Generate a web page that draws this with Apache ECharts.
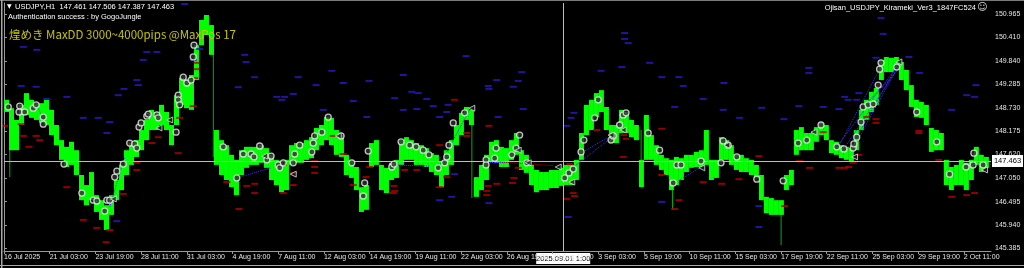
<!DOCTYPE html>
<html><head><meta charset="utf-8">
<script src="https://cdn.jsdelivr.net/npm/echarts@6/dist/echarts.min.js"></script>
<style>html,body{margin:0;padding:0;background:#000;}#c{width:1024px;height:268px;}</style>
</head><body><div id="c"></div>
<script>
// ---- data (x = H1 bar index from 16 Jul 2025, y = USDJPY price) ----
const xLabels = ['16 Jul 2025','21 Jul 03:00','23 Jul 19:00','28 Jul 11:00','31 Jul 03:00','4 Aug 19:00','7 Aug 11:00','12 Aug 03:00','14 Aug 19:00','19 Aug 11:00','22 Aug 03:00','26 Aug 19:00','29 Aug 11:00','3 Sep 03:00','5 Sep 19:00','10 Sep 11:00','15 Sep 03:00','17 Sep 19:00','22 Sep 11:00','25 Sep 03:00','29 Sep 19:00','2 Oct 11:00'];
const barsPerLabel = 64;
const yTicks = [145.385,145.940,146.495,147.050,147.620,148.175,148.730,149.285,149.840,150.410,150.965];
const barsPerSample = 7;
const priceHigh = [148.92,148.72,148.44,148.80,149.08,148.92,148.84,148.84,148.92,148.68,148.32,147.96,147.80,147.92,147.72,147.13,146.89,147.20,146.65,146.53,146.41,146.65,147.01,147.37,147.72,147.89,147.96,148.20,148.44,148.68,148.63,148.80,148.63,148.32,149.03,149.44,149.39,149.51,150.22,150.82,150.94,150.70,148.20,147.96,147.84,147.61,147.49,147.72,147.80,147.80,147.80,147.84,147.77,147.61,147.49,147.37,147.49,147.84,147.89,147.89,147.96,148.03,148.25,148.32,148.51,148.49,148.20,148.08,147.61,147.49,147.32,146.84,146.89,147.89,147.96,147.37,147.30,147.42,147.49,147.96,148.03,147.96,147.89,147.84,147.77,147.65,147.61,147.44,147.72,147.96,148.32,148.61,148.75,148.68,147.08,147.37,147.61,147.92,147.96,147.80,147.77,147.96,148.13,147.72,147.61,147.37,147.25,147.20,147.20,147.25,147.25,147.30,147.37,147.37,147.49,148.13,148.80,148.92,149.08,149.15,148.75,148.32,148.32,148.68,148.63,148.44,148.32,147.49,148.56,148.08,147.84,147.61,147.53,147.49,147.56,147.53,147.61,147.61,147.68,147.72,148.20,147.49,147.49,148.03,147.96,147.84,147.61,147.61,147.53,147.49,147.37,147.13,146.61,146.58,146.53,146.53,147.13,147.25,148.20,148.27,148.13,148.13,148.27,148.37,148.32,147.96,147.92,147.84,147.80,147.77,148.20,148.68,148.92,149.11,149.20,149.87,149.94,149.92,149.94,149.82,149.63,149.27,148.92,148.87,148.80,148.25,148.20,148.13,147.49,147.32,147.37,147.49,147.42,147.49,147.80,147.61,147.56];
const priceLow = [148.63,147.72,147.72,148.32,148.56,148.49,148.44,148.37,148.32,148.08,147.84,147.49,147.32,147.37,147.13,146.53,146.41,146.53,146.25,146.06,145.82,146.18,146.53,146.77,147.13,147.37,147.56,147.72,147.96,148.20,148.20,148.32,148.20,147.84,148.32,148.80,148.72,148.68,149.39,150.22,150.46,149.99,147.37,147.13,147.01,146.84,146.65,147.13,147.30,147.37,147.37,147.42,147.30,147.01,146.89,146.72,146.77,147.37,147.42,147.42,147.49,147.53,147.72,147.84,147.96,147.84,147.61,147.56,147.13,147.06,146.77,146.25,146.30,147.32,147.37,146.77,146.70,147.01,147.06,147.37,147.49,147.49,147.37,147.37,147.32,147.20,147.13,146.84,147.13,147.37,147.84,148.08,148.44,148.32,146.61,146.77,147.01,147.44,147.42,147.32,147.32,147.49,147.61,147.25,147.18,146.89,146.72,146.77,146.77,146.82,146.82,146.87,146.89,146.89,147.01,147.49,148.08,148.20,148.51,148.63,148.20,147.89,147.89,148.13,148.13,148.03,147.96,146.84,147.49,147.49,147.37,147.25,147.13,146.77,146.89,147.01,147.20,147.30,147.32,147.32,147.37,147.01,147.06,147.49,147.49,147.37,147.25,147.20,147.20,147.13,147.06,146.53,146.22,146.18,146.18,146.18,146.77,146.89,147.61,147.72,147.72,147.72,147.92,148.08,147.96,147.65,147.61,147.53,147.49,147.44,147.72,148.20,148.44,148.63,148.80,149.39,149.58,149.58,149.63,149.39,149.15,148.75,148.51,148.49,148.32,147.68,147.72,147.72,146.89,146.77,146.89,146.89,146.77,147.01,147.37,147.20,147.30];
// long thin wicks [bar, low, high]
const spikes = [[8,147.08,148.63],[293,147.56,150.34],[655,146.58,148.68],[892,146.84,148.20],[936,146.30,147.49],[1088,145.46,146.53]];
const blueDashes = [[253,151.20],[27,150.18],[46,150.11],[200,150.06],[214,150.06],[274,150.13],[265,149.87],[337,149.99],[339,149.82],[195,149.87],[351,149.46],[459,149.61],[186,149.39],[188,149.27],[328,149.22],[412,149.46],[437,149.27],[88,148.99],[60,148.94],[405,149.06],[382,148.99],[393,148.99],[389,148.92],[447,148.68],[111,148.49],[132,148.49],[148,148.39],[144,148.13],[158,146.03],[24,149.25],[45,149.23],[160,149.03],[168,149.18],[475,149.32],[511,149.37],[489,148.89],[508,148.51],[559,149.51],[547,148.96],[559,148.68],[571,149.11],[580,149.08],[578,148.70],[592,148.94],[601,148.77],[610,148.51],[622,148.80],[620,148.63],[647,149.96],[678,149.25],[679,149.18],[690,149.39],[692,148.51],[713,149.23],[720,149.37],[725,149.58],[727,148.70],[631,147.15],[610,146.53],[627,146.61],[679,146.46],[790,146.13],[788,148.30],[794,148.49],[798,148.61],[836,149.61],[865,149.70],[869,150.51],[869,150.37],[874,150.27],[904,149.80],[921,149.46],[921,146.49],[1228,150.87],[1231,150.49],[945,149.46],[951,149.25],[979,148.94],[939,148.75],[1008,149.32],[1007,148.68],[1030,148.49],[1092,148.46],[1057,146.39],[1057,145.89],[1127,149.68],[1127,149.56],[1147,148.75],[1169,148.70],[1197,149.08],[1177,148.99],[1182,148.92],[1194,148.92],[1221,149.92],[1267,149.94],[1282,149.56],[1327,148.68],[1348,149.03],[1361,149.27],[1359,148.99],[1113,148.77],[1061,148.73]];
const redDashes = [[1,148.30],[24,148.34],[27,148.06],[45,148.06],[50,147.96],[35,147.80],[270,149.80],[270,149.65],[267,149.44],[265,148.77],[246,148.49],[244,147.65],[216,148.03],[207,147.89],[186,147.42],[186,147.25],[88,146.84],[111,146.06],[130,145.87],[148,145.82],[143,145.53],[167,146.68],[312,146.96],[340,146.87],[351,146.92],[351,146.70],[329,146.32],[391,146.70],[405,146.89],[435,147.46],[435,147.32],[435,147.18],[461,148.06],[391,147.37],[405,147.18],[631,148.92],[648,148.13],[648,148.06],[610,147.84],[475,147.63],[512,147.32],[507,147.08],[489,146.89],[546,146.87],[547,146.75],[545,146.70],[561,147.25],[578,147.25],[610,146.84],[620,147.08],[679,148.30],[678,146.87],[676,146.75],[676,146.65],[690,146.92],[714,147.06],[712,146.94],[720,147.30],[792,147.39],[788,146.56],[797,146.70],[799,146.63],[830,148.20],[867,147.56],[868,148.08],[871,147.99],[921,148.23],[921,147.13],[945,146.53],[939,146.32],[979,146.96],[1005,146.92],[1029,147.03],[1057,147.58],[1093,146.39],[1114,147.46],[1128,147.30],[1147,148.15],[1169,147.30],[1177,147.30],[1183,147.32],[1189,147.42],[1197,147.61],[1208,148.51],[1221,148.46],[1221,148.37],[1226,149.23],[1281,148.18],[1281,148.13],[1309,147.49],[1327,146.61],[1348,146.65],[1359,146.70]];
const entryMarks = [[6,148.75],[22,148.77],[21,148.63],[29,148.63],[41,148.72],[45,148.80],[55,148.51],[55,148.34],[84,147.39],[109,146.70],[125,146.53],[130,146.51],[141,146.27],[144,146.53],[148,146.53],[155,147.08],[158,147.22],[167,147.39],[176,147.89],[183,147.87],[186,147.77],[189,148.27],[192,148.37],[200,148.53],[202,148.58],[214,148.56],[216,148.49],[241,148.15],[244,149.03],[244,148.92],[246,148.80],[251,149.46],[256,149.32],[262,149.39],[265,149.94],[266,150.22],[307,147.80],[326,147.06],[335,147.63],[346,147.63],[350,147.56],[358,147.82],[368,147.49],[374,147.58],[384,147.37],[386,147.30],[391,147.42],[405,147.42],[407,147.63],[414,147.84],[431,147.68],[433,147.89],[435,148.06],[445,148.15],[454,148.51],[472,148.06],[487,147.42],[510,147.70],[505,146.94],[503,146.63],[543,147.32],[546,147.39],[556,147.92],[568,147.84],[577,147.80],[587,147.72],[595,147.61],[608,147.30],[617,147.42],[620,147.56],[623,147.84],[629,148.37],[645,148.61],[675,147.49],[675,147.37],[689,147.77],[687,147.53],[711,147.61],[717,147.77],[722,148.08],[732,147.42],[785,147.06],[791,147.18],[797,147.27],[808,147.68],[812,147.96],[827,148.49],[832,148.92],[850,147.96],[853,148.06],[862,148.32],[867,148.56],[871,148.61],[902,148.13],[918,147.72],[937,146.94],[942,147.37],[948,147.37],[976,147.46],[1004,147.42],[1007,147.94],[1014,147.84],[1026,147.56],[1054,147.03],[1091,146.99],[1112,147.89],[1124,147.96],[1144,148.32],[1166,147.80],[1176,147.75],[1189,147.77],[1190,147.87],[1194,148.03],[1200,148.39],[1203,148.75],[1210,148.80],[1217,148.82],[1224,149.27],[1226,149.65],[1228,149.80],[1250,149.70],[1278,148.63],[1306,147.92],[1324,147.15],[1347,147.32],[1357,147.37],[1358,147.65],[1371,147.37]];
const exitMarks = [[153,146.56],[232,148.44],[217,148.25],[365,147.58],[405,147.15],[468,148.06],[655,148.72],[720,147.72],[734,147.42],[776,147.32],[795,146.96],[850,148.08],[867,148.20],[977,147.30],[1012,147.84],[1134,148.15],[1191,147.56],[1253,149.82],[1373,147.25]];
const blueLinks = [[48,148.75,55,148.37],[148,146.37,169,147.56],[326,147.06,374,147.30],[546,147.37,596,147.34],[608,147.30,652,148.68],[675,147.44,708,147.44],[792,147.25,846,147.96],[811,147.68,844,148.01],[946,147.01,974,147.30],[1166,147.80,1250,149.70],[1176,147.75,1252,149.68],[1189,147.77,1253,149.75],[1194,148.03,1250,149.72],[1203,148.75,1253,149.65],[1170,147.85,1226,149.65]];
const redLinks = [[694,147.44,770,147.35]];
const crossBar = 783, crossLabel = '2025.09.01 1:00';
const lastPrice = 147.463;
const headerText = 'USDJPY,H1  147.461 147.506 147.387 147.463';
const authText = 'Authentication success : by GogoJungle';
const titleText = '煌めき MaxDD 3000~4000pips @MaxPos 17';
const eaText = 'Ojisan_USDJPY_Kirameki_Ver3_1847FC524';

// ---- chart ----
const samples = priceHigh.map((h, i) => [i * barsPerSample + barsPerSample / 2, priceLow[i], h]);
const tickBars = xLabels.map((_, k) => k * barsPerLabel);
const FONT = 'Liberation Sans';
const chart = echarts.init(document.getElementById('c'), null, {renderer: 'canvas'});

function rangeItem(halfW, color) {
  return function (params, api) {
    const x = api.value(0), lo = api.value(1), hi = api.value(2);
    const a = api.coord([x - halfW, hi]), b = api.coord([x + halfW, lo]);
    return {type: 'rect', shape: {x: a[0], y: a[1], width: Math.max(1, b[0] - a[0]), height: Math.max(1, b[1] - a[1])}, style: {fill: color}};
  };
}

chart.setOption({
  backgroundColor: '#000000',
  animation: false,
  grid: {left: 4, right: 33, top: 3, bottom: 17, containLabel: false},
  xAxis: {
    type: 'value', min: 0, max: 1382,
    axisLine: {show: true, onZero: false, lineStyle: {color: '#9a9a9a', width: 1}},
    axisTick: {show: true, customValues: tickBars, length: 3, lineStyle: {color: '#9a9a9a'}},
    axisLabel: {customValues: tickBars, formatter: v => xLabels[Math.round(v / barsPerLabel)], color: '#e6e6e6', fontSize: 7, fontFamily: FONT, align: 'left', margin: 3},
    splitLine: {show: false}
  },
  yAxis: {
    type: 'value', position: 'right', min: 145.32, max: 151.225,
    axisLine: {show: true, lineStyle: {color: '#9a9a9a', width: 1}},
    axisTick: {show: true, customValues: yTicks, length: 3, lineStyle: {color: '#9a9a9a'}},
    axisLabel: {customValues: yTicks, formatter: v => v.toFixed(3), color: '#e6e6e6', fontSize: 7, fontFamily: FONT, margin: 4},
    splitLine: {show: false}
  },
  series: [
    {type: 'custom', renderItem: rangeItem(0.6, '#00b000'), data: spikes, encode: {x: 0, y: [1, 2]}, z: 2, silent: true},
    {type: 'custom', renderItem: rangeItem(barsPerSample / 2, '#00ff00'), data: samples, encode: {x: 0, y: [1, 2]}, z: 3, silent: true,
      markLine: {silent: true, symbol: 'none', label: {show: false}, lineStyle: {color: '#bdbdbd', width: 1, type: 'solid'},
        data: [{xAxis: crossBar}, {yAxis: lastPrice}]}},
    {type: 'scatter', data: blueDashes, symbol: 'rect', symbolSize: [7, 2], itemStyle: {color: '#2a18c8'}, z: 4, silent: true},
    {type: 'scatter', data: redDashes, symbol: 'rect', symbolSize: [7, 2], itemStyle: {color: '#b80000'}, z: 4, silent: true},
    {type: 'lines', coordinateSystem: 'cartesian2d', data: blueLinks.map(l => ({coords: [[l[0], l[1]], [l[2], l[3]]]})), lineStyle: {color: '#3a30ff', width: 1, type: 'dotted', opacity: 1}, z: 5, silent: true},
    {type: 'lines', coordinateSystem: 'cartesian2d', data: redLinks.map(l => ({coords: [[l[0], l[1]], [l[2], l[3]]]})), lineStyle: {color: '#d00000', width: 1, type: 'dotted', opacity: 1}, z: 5, silent: true},
    {type: 'scatter', data: entryMarks, symbol: 'circle', symbolSize: 6, itemStyle: {color: '#303030', borderColor: '#ececec', borderWidth: 1.3}, z: 6, silent: true},
    {type: 'scatter', data: exitMarks, symbol: 'triangle', symbolRotate: 90, symbolSize: 6, itemStyle: {color: '#202020', borderColor: '#e0e0e0', borderWidth: 1}, z: 6, silent: true}
  ]
});

const cx = chart.convertToPixel({xAxisIndex: 0}, crossBar);
const py = chart.convertToPixel({yAxisIndex: 0}, lastPrice);
chart.setOption({
  graphic: [
    {type: 'rect', shape: {x: 0, y: 0, width: 1024, height: 1}, style: {fill: '#7a7a7a'}, z: 100},
    {type: 'rect', shape: {x: 1, y: 0, width: 1.5, height: 268}, style: {fill: '#a8a8a8'}, z: 100},
    {type: 'rect', shape: {x: 0, y: 265, width: 1024, height: 1}, style: {fill: '#a8a8a8'}, z: 100},
    {type: 'text', left: 7, top: 3, style: {text: '▼', fill: '#ffffff', font: '6px "DejaVu Sans"'}, z: 100},
    {type: 'text', left: 15, top: 3, style: {text: headerText, fill: '#ffffff', font: '7.5px ' + FONT}, z: 100},
    {type: 'text', left: 8, top: 13, style: {text: authText, fill: '#ffffff', font: '7.5px ' + FONT}, z: 100},
    {type: 'text', left: 9, top: 29, style: {text: titleText, fill: '#c8c400', font: '11.5px "Noto Sans CJK JP", ' + FONT}, z: 100},
    {type: 'text', right: 1024 - 976, top: 4, style: {text: eaText, fill: '#ffffff', font: '7.5px ' + FONT, align: 'right'}, z: 100},
    {type: 'text', left: 977, top: 2, style: {text: '☺', fill: '#d8d8d8', font: '10px "DejaVu Sans"'}, z: 100},
    {type: 'group', x: cx, y: 253, z: 100, children: [
      {type: 'rect', shape: {x: -27, y: 0, width: 54, height: 11}, style: {fill: '#ffffff'}},
      {type: 'text', x: 0, y: 5.5, style: {text: crossLabel, fill: '#000000', font: '7.5px ' + FONT, align: 'center', verticalAlign: 'middle'}}
    ]},
    {type: 'group', x: 992, y: py, z: 100, children: [
      {type: 'rect', shape: {x: 0, y: -6, width: 31, height: 12}, style: {fill: '#ffffff'}},
      {type: 'text', x: 15.5, y: 0, style: {text: lastPrice.toFixed(3), fill: '#000000', font: '7.5px ' + FONT, align: 'center', verticalAlign: 'middle'}}
    ]}
  ]
});
</script>
</body></html>
